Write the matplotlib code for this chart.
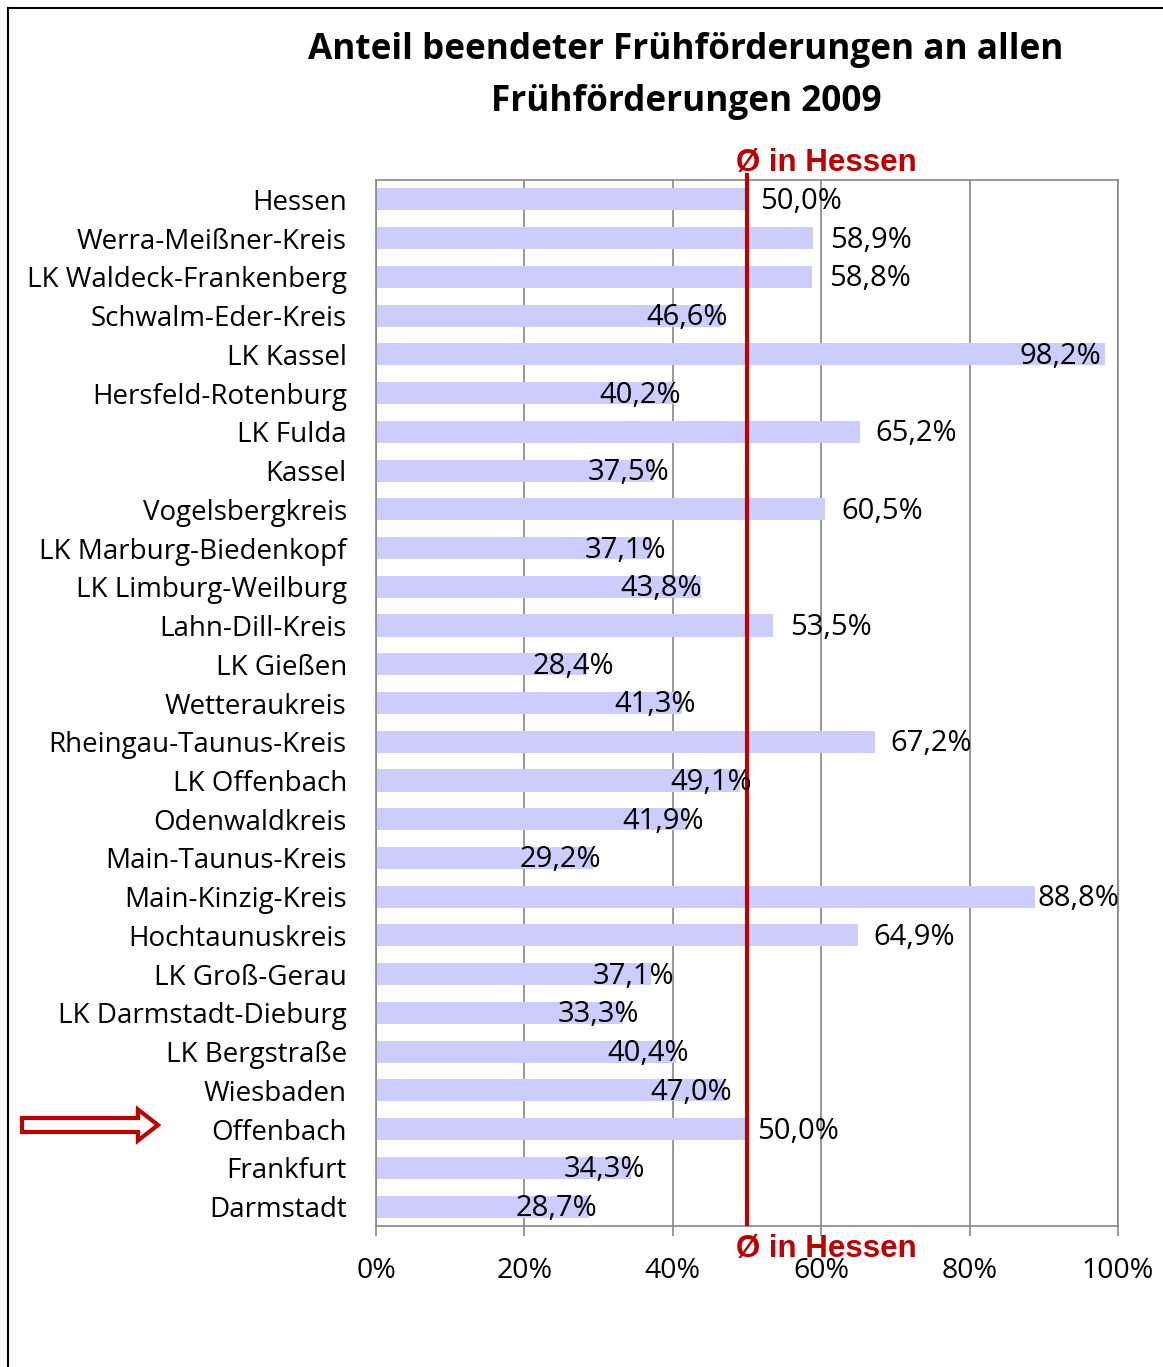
import matplotlib
matplotlib.use("Agg")
import matplotlib.pyplot as plt
import matplotlib.transforms as mtransforms
from matplotlib.patches import FancyArrow
from matplotlib.lines import Line2D

# ── Daten ───────────────────────────────────────────────────
REGIONS = [
    "Hessen", "Werra-Meißner-Kreis", "LK Waldeck-Frankenberg", "Schwalm-Eder-Kreis",
    "LK Kassel", "Hersfeld-Rotenburg", "LK Fulda", "Kassel", "Vogelsbergkreis",
    "LK Marburg-Biedenkopf", "LK Limburg-Weilburg", "Lahn-Dill-Kreis", "LK Gießen",
    "Wetteraukreis", "Rheingau-Taunus-Kreis", "LK Offenbach", "Odenwaldkreis",
    "Main-Taunus-Kreis", "Main-Kinzig-Kreis", "Hochtaunuskreis", "LK Groß-Gerau",
    "LK Darmstadt-Dieburg", "LK Bergstraße", "Wiesbaden", "Offenbach", "Frankfurt",
    "Darmstadt",
]
SHARE = [
    50.0, 58.9, 58.8, 46.6, 98.2, 40.2, 65.2, 37.5, 60.5, 37.1, 43.8, 53.5, 28.4,
    41.3, 67.2, 49.1, 41.9, 29.2, 88.8, 64.9, 37.1, 33.3, 40.4, 47.0, 50.0, 34.3, 28.7,
]
MEAN_HESSEN = 50.0
XTICKS = [0, 20, 40, 60, 80, 100]
TITLE = ["Anteil beendeter Frühförderungen an allen", "Frühförderungen 2009"]

# ── Stil ────────────────────────────────────────────────────
# Abstand linker Rand Beschriftung zum Balkenende (Pixel), wie im Original gesetzt
LABEL_DX = [13, 17, 17, -75, -85, -75, 16, -67, 16, -67, -81, 17, -54, -68, 16,
            -70, -65, -73, 3, 16, -59, -65, -68, -74, 10, -67, -73]
BAR_COLOR = "#CCCCFF"
RED = "#C00000"
GRID = "#868686"
FONT = ["Open Sans", "DejaVu Sans"]

plt.rcParams["font.family"] = FONT

W, H = 1163, 1367
fig = plt.figure(figsize=(W / 100, H / 100), dpi=100)
ax = fig.add_axes([376 / W, (H - 1226) / H, (1118 - 376) / W, (1226 - 180) / H])

y = list(range(len(REGIONS)))
ax.barh(y, SHARE, height=0.57, color=BAR_COLOR, zorder=2)
ax.set_ylim(len(REGIONS) - 0.5, -0.5)
ax.set_xlim(0, 100)

ax.set_yticks(y)
ax.set_yticklabels(REGIONS, fontsize=20)
ax.tick_params(axis="y", length=0, pad=21)
ax.set_xticks(XTICKS)
ax.set_xticklabels([f"{t}%" for t in XTICKS], fontsize=20.5)
ax.tick_params(axis="x", length=7, width=1.2, color=GRID, direction="out", pad=15)

ax.grid(axis="x", color=GRID, lw=1.2, zorder=1)
for s in ax.spines.values():
    s.set_color(GRID)
    s.set_linewidth(1.2)

for i, (v, dx) in enumerate(zip(SHARE, LABEL_DX)):
    ax.annotate(f"{v:.1f}%".replace(".", ","), xy=(v, i), xytext=(dx, -2),
                textcoords="offset pixels", ha="left", va="center",
                fontsize=21, zorder=4)

# Durchschnittslinie Hessen
ax.axvline(MEAN_HESSEN, ymin=0.002, ymax=1.005, color=RED, lw=3, zorder=3, clip_on=False)
trans = mtransforms.blended_transform_factory(ax.transData, ax.transAxes)
for yy in (1.016, -0.022):
    ax.annotate("Ø in Hessen", xy=(MEAN_HESSEN, yy), xycoords=trans,
                xytext=(-11, 0), textcoords="offset pixels",
                ha="left", va="center", fontsize=22.5, fontweight="bold",
                color=RED, family=["Liberation Sans", "DejaVu Sans"],
                annotation_clip=False, zorder=5)

for line, ypx in zip(TITLE, (50, 102)):
    fig.text(686 / W, (H - ypx) / H, line, ha="center", va="center",
             fontsize=25.3, fontweight="bold")

# Pfeil auf Offenbach
arrow = FancyArrow(22 / W, (H - 1125) / H, (158 - 22) / W, 0,
                   width=14 / H, head_width=31 / H, head_length=20 / W,
                   length_includes_head=True, transform=fig.transFigure,
                   facecolor="white", edgecolor=RED, lw=3)
fig.patches.append(arrow)

# Rahmen
fig.lines.append(Line2D([8 / W, 8 / W], [0, 1 - 8 / H], transform=fig.transFigure,
                        color="black", lw=1.5))
fig.lines.append(Line2D([8 / W, 1], [1 - 8 / H, 1 - 8 / H], transform=fig.transFigure,
                        color="black", lw=1.5))

fig.savefig("out.png", dpi=100, facecolor="white")
